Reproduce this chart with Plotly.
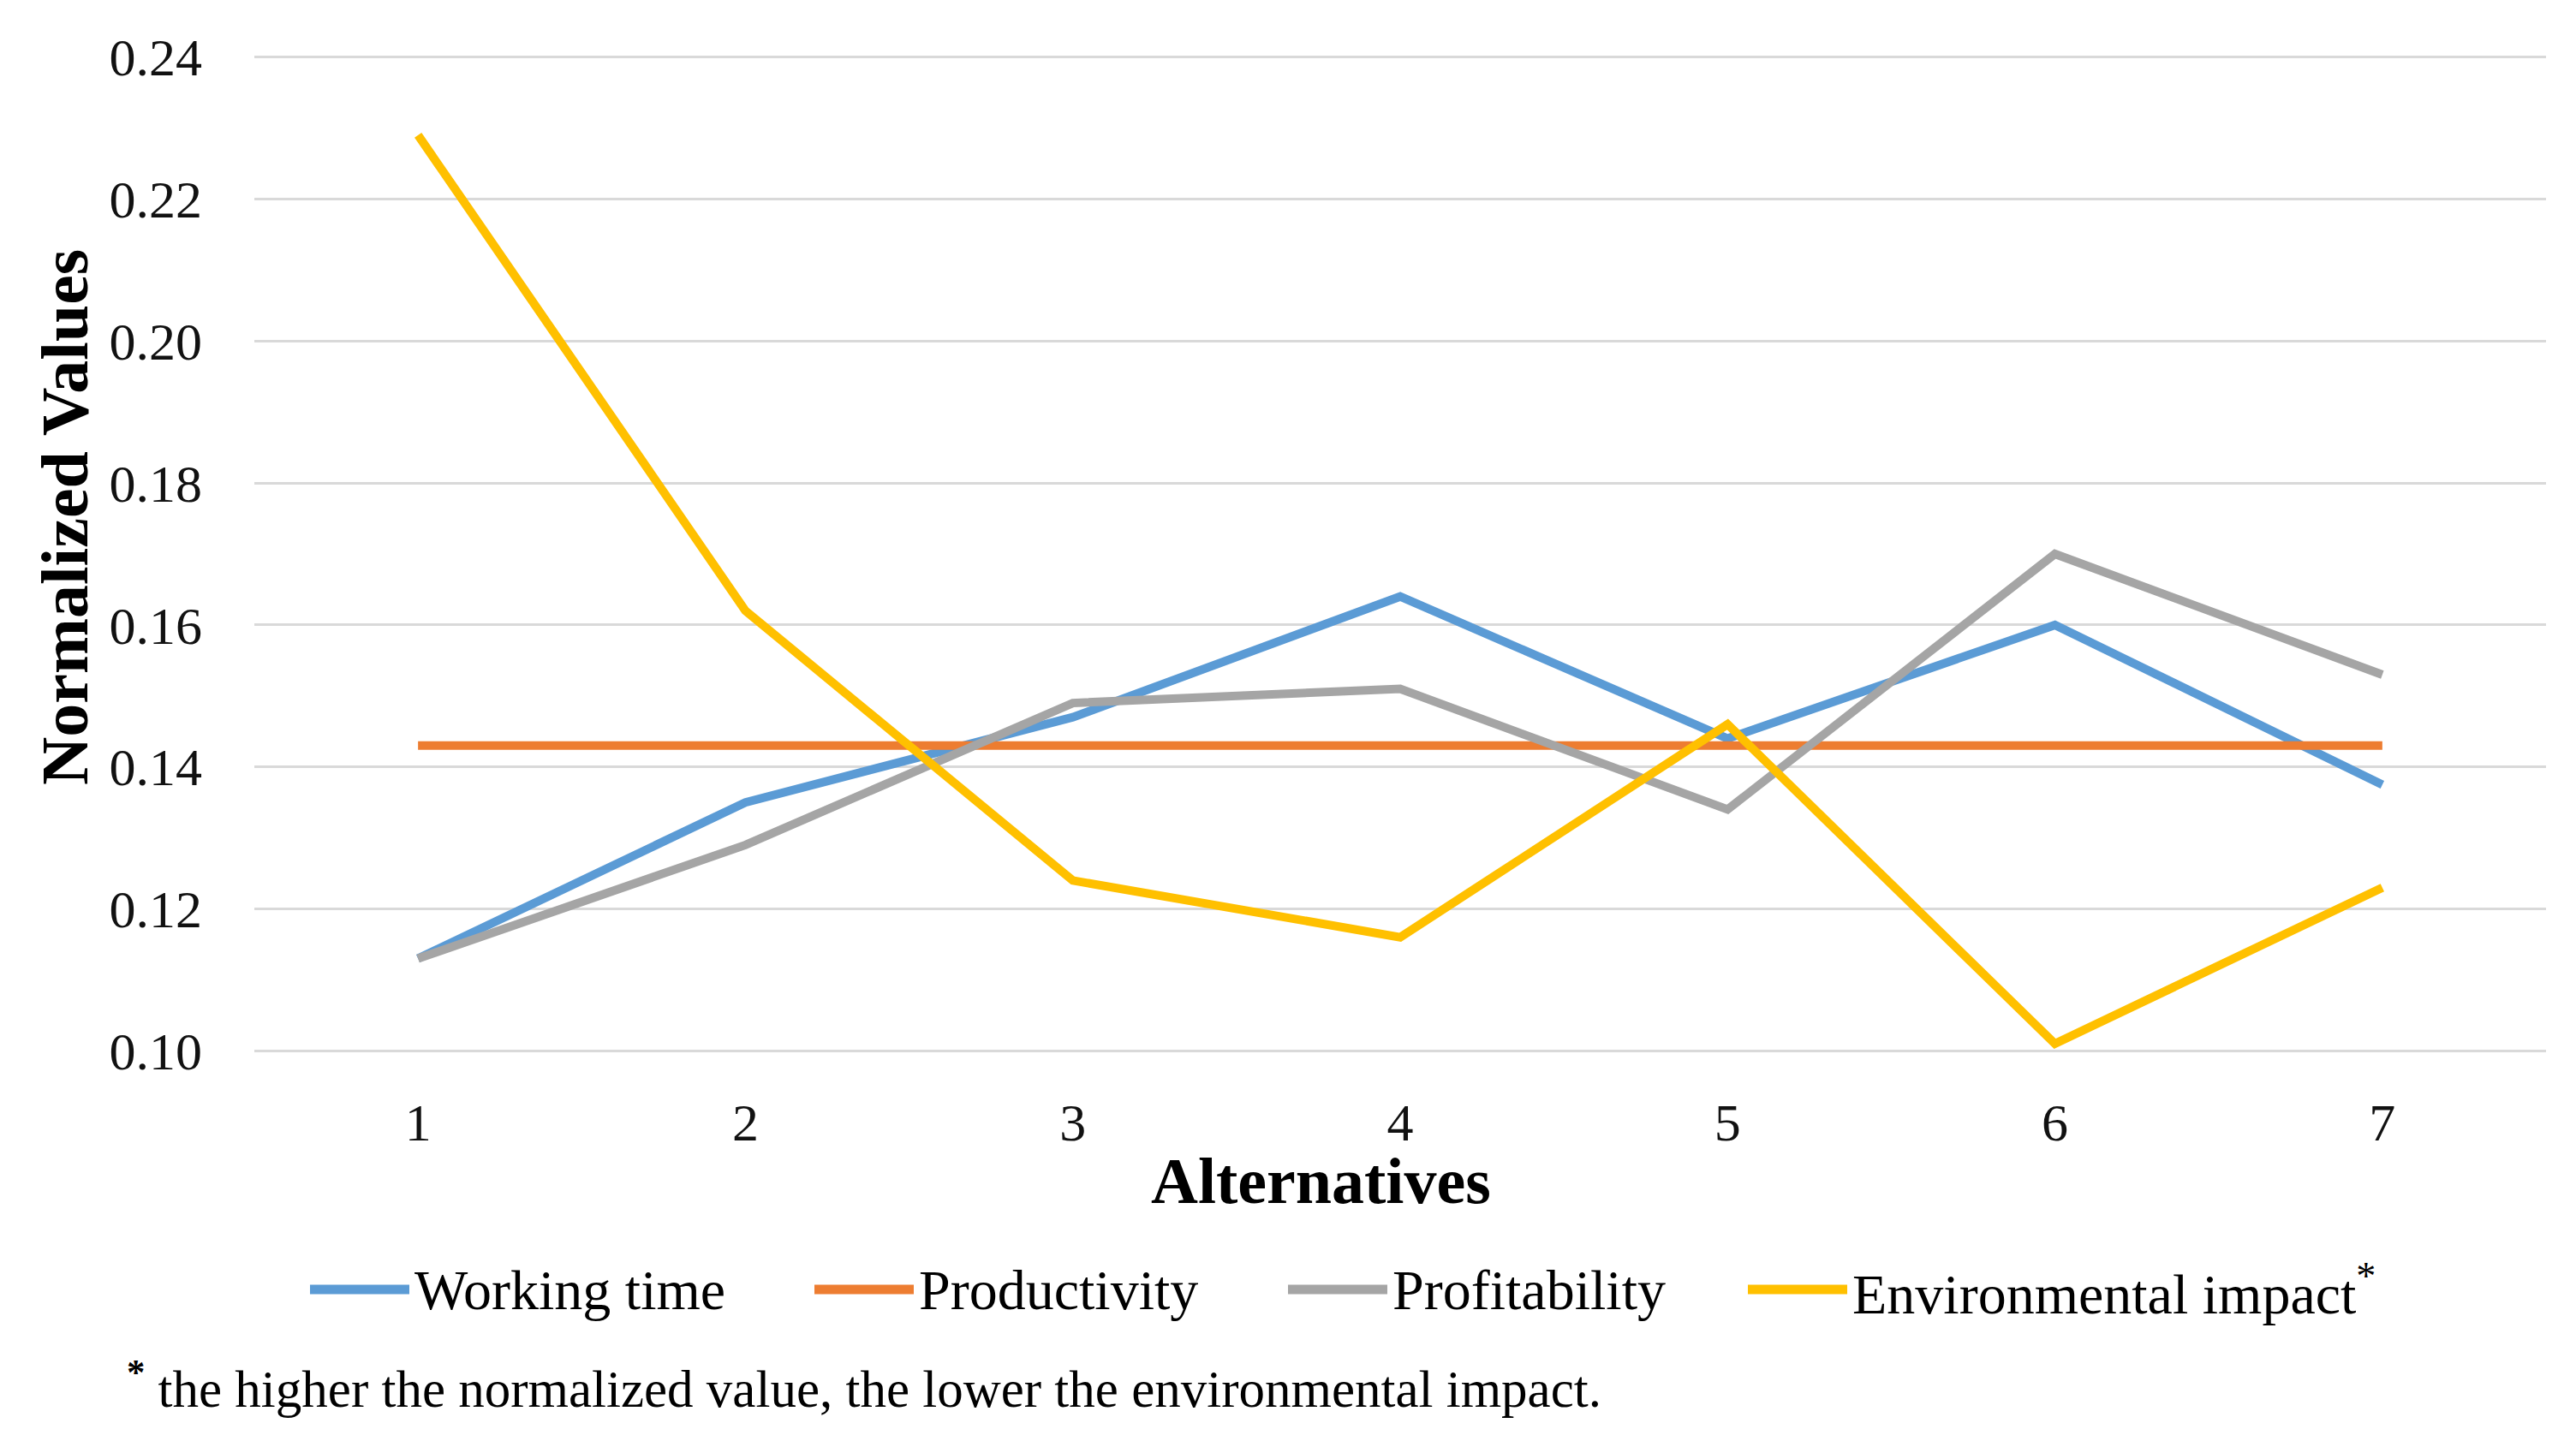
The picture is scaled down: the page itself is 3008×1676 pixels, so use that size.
import plotly.graph_objects as go

alternatives = [1, 2, 3, 4, 5, 6, 7]
working_time = [0.113, 0.135, 0.147, 0.164, 0.144, 0.160, 0.1375]
productivity = [0.143, 0.143, 0.143, 0.143, 0.143, 0.143, 0.143]
profitability = [0.113, 0.129, 0.149, 0.151, 0.134, 0.170, 0.153]
environmental = [0.229, 0.162, 0.124, 0.116, 0.146, 0.101, 0.123]
series_names = ["Working time", "Productivity", "Profitability", "Environmental impact"]
y_ticks = [0.10, 0.12, 0.14, 0.16, 0.18, 0.20, 0.22, 0.24]
y_tick_labels = ["0.10", "0.12", "0.14", "0.16", "0.18", "0.20", "0.22", "0.24"]

colors = ["#5B9BD5", "#ED7D31", "#A5A5A5", "#FFC000"]
series = [working_time, productivity, profitability, environmental]

W, H = 3008, 1676
L, R, T, B = 289, 43, 57, 455
PW, PH = W - L - R, H - T - B
FONT = "Liberation Serif"


def px(xp):
    return (xp - L) / PW


def py(yp):
    return (H - B - yp) / PH


fig = go.Figure()
for name, vals, col in zip(series_names, series, colors):
    fig.add_trace(go.Scatter(x=alternatives, y=vals, mode="lines", name=name,
                             line=dict(color=col, width=10), showlegend=False))

fig.update_layout(
    width=W, height=H,
    margin=dict(l=L, r=R, t=T, b=B),
    paper_bgcolor="white", plot_bgcolor="white",
    font=dict(family=FONT, size=62, color="#111111"),
    xaxis=dict(range=[0.5, 7.5], tickmode="array", tickvals=alternatives,
               ticktext=[str(a) for a in alternatives], showgrid=False,
               zeroline=False, showline=False, ticks="", ticklabelstandoff=40,
               tickfont=dict(size=62, family=FONT, color="#111111")),
    yaxis=dict(range=[0.0998, 0.2402], tickmode="array", tickvals=y_ticks,
               ticktext=y_tick_labels, showgrid=True, gridcolor="#D9D9D9",
               gridwidth=3, zeroline=False, showline=False, ticks="",
               ticklabelstandoff=60,
               tickfont=dict(size=62, family=FONT, color="#111111")),
)

annotations = [
    dict(text="<b>Alternatives</b>", x=px(1534), y=py(1371), xref="paper", yref="paper",
         showarrow=False, xanchor="center", yanchor="middle",
         font=dict(size=76, family=FONT, color="#000000")),
    dict(text="<b>Normalized Values</b>", x=px(67), y=py(596), xref="paper", yref="paper",
         showarrow=False, xanchor="center", yanchor="middle", textangle=-90,
         font=dict(size=78, family=FONT, color="#000000")),
    dict(text="<sup><b>*</b></sup> the higher the normalized value, the lower the environmental impact.",
         x=px(138), y=py(1609), xref="paper", yref="paper", showarrow=False,
         xanchor="left", yanchor="middle",
         font=dict(size=61, family=FONT, color="#000000")),
]

# custom legend
leg_line_x = [354, 943, 1496, 2033]
leg_y = 1498
shapes = []
for i, (name, col) in enumerate(zip(series_names, colors)):
    x0 = leg_line_x[i]
    shapes.append(dict(type="line", xref="paper", yref="paper",
                       x0=px(x0), x1=px(x0 + 116), y0=py(leg_y), y1=py(leg_y),
                       line=dict(color=col, width=11)))
    label = name + ("<sup>*</sup>" if i == 3 else "")
    annotations.append(dict(text=label, x=px(x0 + 120), y=py(leg_y), xref="paper",
                            yref="paper", showarrow=False, xanchor="left",
                            yanchor="middle",
                            font=dict(size=66, family=FONT, color="#000000")))

fig.update_layout(annotations=annotations, shapes=shapes)
fig.write_html("out.html")
